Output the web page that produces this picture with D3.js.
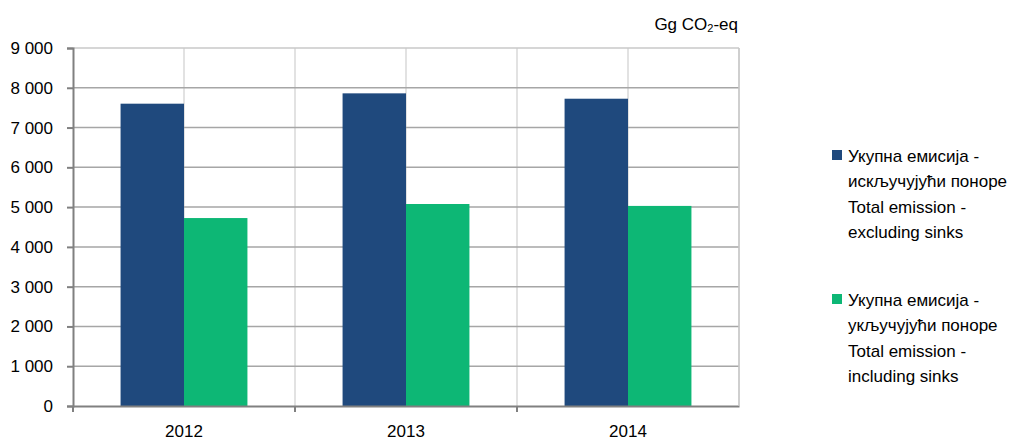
<!DOCTYPE html>
<html>
<head>
<meta charset="utf-8">
<script src="https://cdn.jsdelivr.net/npm/d3@7"></script>
<style>
  body { margin: 0; background: #fff; }
  text { font-family: "Liberation Sans", Arial, sans-serif; fill: #000; }
</style>
</head>
<body>
<svg id="chart" width="1011" height="441"></svg>
<script>
// chart data
const years = ["2012", "2013", "2014"];
const excludingSinks = [7600, 7860, 7725];
const includingSinks = [4725, 5078, 5030];
const yTicks = [0, 1000, 2000, 3000, 4000, 5000, 6000, 7000, 8000, 9000];
const seriesNames = ["excl", "incl"];
const legendLines = [
  ["Укупна емисија -", "искључујући поноре", "Total emission -", "excluding sinks"],
  ["Укупна емисија -", "укључујући поноре", "Total emission -", "including sinks"]
];
const colors = ["#1f497d", "#0db775"];

const margin = { top: 48, left: 73, right: 272, bottom: 35 };
const width = 1011, height = 441;

const svg = d3.select("#chart");

const x = d3.scaleBand()
  .domain(years)
  .range([margin.left, width - margin.right]);

const xInner = d3.scaleBand()
  .domain(seriesNames)
  .range([0, x.bandwidth()])
  .paddingOuter(0.75);

const y = d3.scaleLinear()
  .domain([0, 9000])
  .range([height - margin.bottom, margin.top]);

// vertical grid (band edges and centers)
const vLines = [];
years.forEach(yr => { vLines.push(x(yr) + x.bandwidth() / 2); vLines.push(x(yr) + x.bandwidth()); });
svg.append("g")
  .selectAll("line")
  .data(vLines)
  .join("line")
    .attr("x1", d => d).attr("x2", d => d)
    .attr("y1", y(9000)).attr("y2", y(0))
    .attr("stroke", "#d9d9d9")
    .attr("stroke-width", 1.5);

// horizontal grid
svg.append("g")
  .selectAll("line")
  .data(yTicks.filter(d => d > 0))
  .join("line")
    .attr("x1", margin.left).attr("x2", width - margin.right)
    .attr("y1", d => y(d)).attr("y2", d => y(d))
    .attr("stroke", d => d === 9000 ? "#c8c8c8" : "#a6a6a6")
    .attr("stroke-width", 1.5);

// bars
const data = years.map((yr, i) => ({ year: yr, values: [excludingSinks[i], includingSinks[i]] }));
svg.append("g")
  .selectAll("g")
  .data(data)
  .join("g")
    .attr("transform", d => `translate(${x(d.year)},0)`)
  .selectAll("rect")
  .data(d => d.values.map((v, j) => ({ key: seriesNames[j], value: v, color: colors[j] })))
  .join("rect")
    .attr("x", d => xInner(d.key))
    .attr("width", xInner.bandwidth())
    .attr("y", d => y(d.value))
    .attr("height", d => y(0) - y(d.value))
    .attr("fill", d => d.color);

// y axis
const yAxis = svg.append("g")
  .attr("transform", `translate(${margin.left},0)`)
  .call(d3.axisLeft(y).tickValues(yTicks).tickSize(6).tickPadding(14)
    .tickFormat(d => d3.format(",")(d).replace(/,/g, " ")));
yAxis.select(".domain").attr("stroke", "#808080").attr("stroke-width", 2);
yAxis.selectAll(".tick line").attr("stroke", "#808080").attr("stroke-width", 2);
yAxis.selectAll(".tick text").attr("font-size", "17px").attr("font-family", "Liberation Sans, Arial, sans-serif");

// x axis
const xAxis = svg.append("g")
  .attr("transform", `translate(0,${y(0)})`)
  .call(d3.axisBottom(x).tickSize(0).tickPadding(19));
xAxis.select(".domain").attr("stroke", "#808080").attr("stroke-width", 2);
xAxis.selectAll(".tick text").attr("font-size", "17px").attr("font-family", "Liberation Sans, Arial, sans-serif");
// tick marks at band edges
const edges = [x(years[0])].concat(years.map(yr => x(yr) + x.bandwidth()));
xAxis.append("g")
  .selectAll("line")
  .data(edges.slice(0, -1))
  .join("line")
    .attr("x1", d => d).attr("x2", d => d)
    .attr("y1", 0).attr("y2", 6)
    .attr("stroke", "#808080")
    .attr("stroke-width", 2);

// right border
svg.append("line")
  .attr("x1", width - margin.right).attr("x2", width - margin.right)
  .attr("y1", y(9000)).attr("y2", y(0))
  .attr("stroke", "#c8c8c8").attr("stroke-width", 1.5);

// unit label
const unit = svg.append("text")
  .attr("x", width - margin.right - 1)
  .attr("y", 30)
  .attr("text-anchor", "end")
  .attr("font-size", "17px");
unit.append("tspan").text("Gg CO");
unit.append("tspan").attr("font-size", "11px").attr("dy", 2).text("2");
unit.append("tspan").attr("dy", -2).text("-eq");

// legend
const legend = svg.append("g").attr("transform", "translate(832,0)");
const legendTop = [150, 294];
legendLines.forEach((lines, i) => {
  const g = legend.append("g").attr("transform", `translate(0,${legendTop[i]})`);
  g.append("rect")
    .attr("width", 10).attr("height", 10)
    .attr("fill", colors[i]);
  g.selectAll("text")
    .data(lines)
    .join("text")
      .attr("x", 16)
      .attr("y", (d, k) => 12 + k * 25.3)
      .attr("font-size", "17px")
      .text(d => d);
});
</script>
</body>
</html>
